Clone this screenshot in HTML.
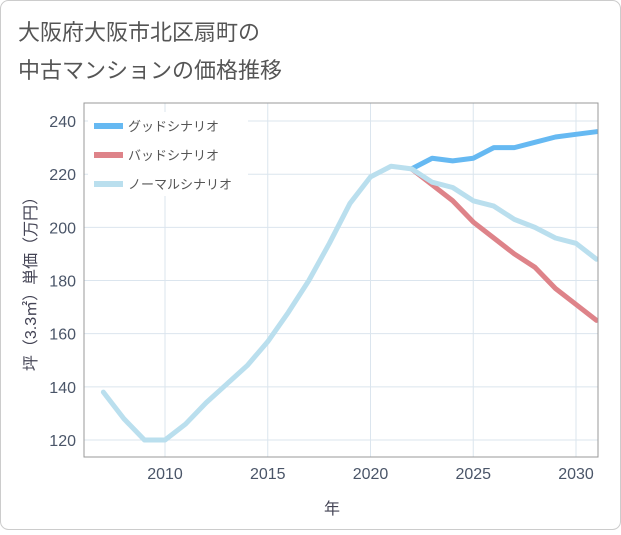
<!DOCTYPE html>
<html><head><meta charset="utf-8"><style>
body{margin:0;background:#fff;font-family:"Liberation Sans","Noto Sans CJK JP",sans-serif}
svg text{font-family:"Liberation Sans","Noto Sans CJK JP",sans-serif}
</style></head><body>
<svg id="c" width="621" height="530">
<rect x="0.5" y="0.5" width="620" height="529" rx="8" fill="#fff" stroke="#ccc"/>
<text x="18" y="40" font-size="22" fill="#555">大阪府大阪市北区扇町の</text>
<text x="18" y="78" font-size="22" fill="#555">中古マンションの価格推移</text>
<g id="grid"></g>
<g id="lines"></g>
<g id="axes"></g>
<text x="332" y="514" font-size="16" fill="#445" text-anchor="middle">年</text>
<text transform="translate(36,280) rotate(-90)" font-size="16" fill="#445" text-anchor="middle">坪（3.3㎡）単価（万円）</text>
<g id="legend"></g>
</svg>
<script>
const years=[2007,2008,2009,2010,2011,2012,2013,2014,2015,2016,2017,2018,2019,2020,2021,2022,2023,2024,2025,2026,2027,2028,2029,2030,2031];
const normalVals=[138,128,120,120,126,134,141,148,157,168,180,194,209,219,223,222,217,215,210,208,203,200,196,194,188];
const goodYears=[2022,2023,2024,2025,2026,2027,2028,2029,2030,2031];
const goodVals=[222,226,225,226,230,230,232,234,235,236];
const badYears=[2022,2023,2024,2025,2026,2027,2028,2029,2030,2031];
const badVals=[222,216,210,202,196,190,185,177,171,165];
const xTicks=[2010,2015,2020,2025,2030];
const yTicks=[120,140,160,180,200,220,240];
const NS="http://www.w3.org/2000/svg";
const L=84,R=598,T=103,B=457;
const x=v=>165+(v-2010)*20.55;
const y=v=>440-(v-120)*2.658;
function mk(tag,attrs,parent){const e=document.createElementNS(NS,tag);for(const k in attrs)e.setAttribute(k,attrs[k]);parent.appendChild(e);return e;}
const grid=document.getElementById('grid'),axes=document.getElementById('axes'),lines=document.getElementById('lines'),lg=document.getElementById('legend');
xTicks.forEach(t=>{const l=mk('line',{x1:x(t),x2:x(t),y1:T,y2:B,stroke:'#dbe5ee'},grid);

const tx=mk('text',{x:x(t),y:B+22,'font-size':16,fill:'#4a5568','text-anchor':'middle'},axes);tx.textContent=t;
});
yTicks.forEach(t=>{const l=mk('line',{x1:L,x2:R,y1:y(t),y2:y(t),stroke:'#dbe5ee'},grid);

const tx=mk('text',{x:L-8,y:y(t)+6,'font-size':16,fill:'#4a5568','text-anchor':'end'},axes);tx.textContent=t;
});
const fr=mk('rect',{x:L,y:T,width:R-L,height:B-T,fill:'none',stroke:'#999'},axes);

function series(xs,vs,color,name){const p=mk('polyline',{points:xs.map((v,i)=>x(v)+','+y(vs[i])).join(' '),fill:'none',stroke:color,'stroke-width':5,'stroke-linejoin':'round','stroke-linecap':'round'},lines);
}
const clip=mk('clipPath',{id:'pc'},document.getElementById('c'));mk('rect',{x:L,y:T,width:R-L,height:B-T},clip);
lines.setAttribute('clip-path','url(#pc)');
series(badYears,badVals,'#de8389','bad-scenario-line');
series(goodYears,goodVals,'#66b9f2','good-scenario-line');
series(years,normalVals,'#badfee','normal-scenario-line');
const lb=mk('rect',{x:88,y:112,width:160,height:84,fill:'#fff'},lg);

[['グッドシナリオ','#66b9f2'],['バッドシナリオ','#de8389'],['ノーマルシナリオ','#badfee']].forEach((d,i)=>{
const yy=126+i*29;const l=mk('line',{x1:94,x2:123,y1:yy,y2:yy,stroke:d[1],'stroke-width':6},lg);

const t=mk('text',{x:128,y:yy+5,'font-size':13,fill:'#555'},lg);t.textContent=d[0];
});
</script>
</body></html>
